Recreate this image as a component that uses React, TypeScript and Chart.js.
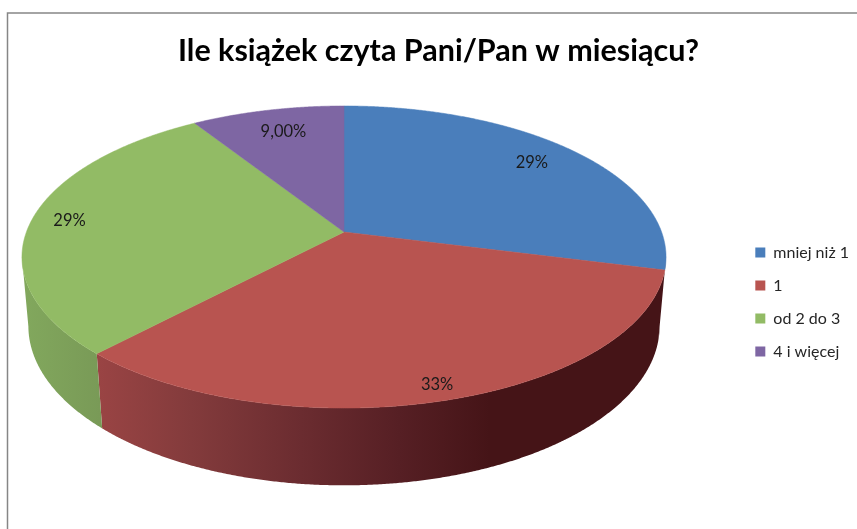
import React, { useEffect, useRef } from "react";
import { Chart, registerables } from "chart.js";

Chart.register(...registerables);

const categories = ["mniej niż 1", "1", "od 2 do 3", "4 i więcej"];
const shares = [29, 33, 29, 9];
const sliceLabels = ["29%", "33%", "29%", "9,00%"];
const sliceColors = ["#4a7ebb", "#b85450", "#92bb65", "#7e66a3"];
const chartTitle = "Ile książek czyta Pani/Pan w miesiącu?";

// Perspective camera for the tilted disc
const CX = 344, CY = 232, A = 317.6, B = 146.9, K = 0.1656;
const M = 0.0198, C = 69.5;
const FOLD_R = Math.asin(K), FOLD_L = Math.PI - Math.asin(K);
const LABEL_RADIUS = [0.81, 0.9, 0.88, 0.81];
const LABEL_SHIFT = [[0, -2], [0, 5], [0, 1], [3, 1]];
const FONT = "Lato, Carlito, sans-serif";

function project(theta: number, r: number, h: number) {
  const u = r * Math.cos(theta), v = r * Math.sin(theta);
  const w = 1 - K * v + M * h;
  return { x: CX + (A * u) / w, y: CY + (B * v + C * h) / w };
}

function arcPoints(s: number, e: number, h: number) {
  const n = Math.max(2, Math.ceil((e - s) / 0.005));
  const pts = [];
  for (let i = 0; i <= n; i++) pts.push(project(s + ((e - s) * i) / n, 1, h));
  return pts;
}

function wallFill(ctx: CanvasRenderingContext2D, i: number) {
  if (i === 1) {
    const g = ctx.createLinearGradient(97, 0, 490, 0);
    g.addColorStop(0, "#9a4444");
    g.addColorStop(0.24, "#833b3c");
    g.addColorStop(0.52, "#6b2c30");
    g.addColorStop(0.77, "#561f24");
    g.addColorStop(1, "#451417");
    return g;
  }
  if (i === 2) {
    const g = ctx.createLinearGradient(22, 0, 100, 0);
    g.addColorStop(0, "#82a85d");
    g.addColorStop(1, "#799a57");
    return g;
  }
  return "#451417";
}

const piePlugin = {
  id: "perspectivePie",
  beforeDraw(chart: any) {
    const { ctx, width, height } = chart;
    ctx.save();
    ctx.fillStyle = "#ffffff";
    ctx.fillRect(0, 0, width, height);
    ctx.strokeStyle = "#868686";
    ctx.lineWidth = 1.5;
    ctx.beginPath();
    ctx.moveTo(7.5, height + 2);
    ctx.lineTo(7.5, 13);
    ctx.lineTo(width + 2, 13);
    ctx.stroke();
    ctx.restore();
  },
  beforeDatasetDraw(chart: any) {
    const { ctx } = chart;
    const arcs = chart.getDatasetMeta(0).data;
    ctx.save();
    // side walls: only the near part of the rim, between the silhouette folds
    arcs.forEach((el: any, i: number) => {
      const s = Math.max(el.startAngle, FOLD_R);
      const e = Math.min(el.endAngle, FOLD_L);
      if (e <= s) return;
      const top = arcPoints(s, e, 0);
      const bottom = arcPoints(s, e, 1).reverse();
      ctx.beginPath();
      top.concat(bottom).forEach((p, k) => (k ? ctx.lineTo(p.x, p.y) : ctx.moveTo(p.x, p.y)));
      ctx.closePath();
      ctx.fillStyle = wallFill(ctx, i);
      ctx.fill();
    });
    // top face
    arcs.forEach((el: any, i: number) => {
      const pts = arcPoints(el.startAngle, el.endAngle, 0);
      ctx.beginPath();
      ctx.moveTo(CX, CY);
      pts.forEach((p) => ctx.lineTo(p.x, p.y));
      ctx.closePath();
      ctx.fillStyle = sliceColors[i];
      ctx.strokeStyle = sliceColors[i];
      ctx.lineWidth = 0.5;
      ctx.fill();
      ctx.stroke();
    });
    // value labels
    ctx.font = `16.5px ${FONT}`;
    ctx.fillStyle = "#1a1a1a";
    ctx.textAlign = "center";
    ctx.textBaseline = "middle";
    arcs.forEach((el: any, i: number) => {
      const p = project((el.startAngle + el.endAngle) / 2, LABEL_RADIUS[i], 0);
      ctx.fillText(sliceLabels[i], p.x + LABEL_SHIFT[i][0], p.y + LABEL_SHIFT[i][1]);
    });
    ctx.restore();
    return false;
  },
};

export default function App() {
  const ref = useRef<HTMLCanvasElement>(null);
  useEffect(() => {
    document.body.style.margin = "0";
    const chart = new Chart(ref.current!, {
      type: "pie",
      data: {
        labels: categories,
        datasets: [{ data: shares, backgroundColor: sliceColors, borderWidth: 0 }],
      },
      options: {
        responsive: false,
        animation: false,
        layout: { padding: { top: 33, right: -2, bottom: -42, left: 18 } },
        plugins: {
          tooltip: { enabled: false },
          title: {
            display: true,
            text: chartTitle,
            color: "#000000",
            font: { family: FONT, size: 30.5, weight: "bold" },
            padding: { top: 0, bottom: 10 },
          },
          legend: {
            position: "right",
            labels: {
              boxWidth: 10,
              boxHeight: 10,
              padding: 17,
              color: "#262626",
              font: { family: FONT, size: 16 },
            },
          },
        },
      },
      plugins: [piePlugin],
    } as any);
    return () => chart.destroy();
  }, []);
  return (
    <canvas
      ref={ref}
      width={857}
      height={529}
      style={{ display: "block", width: 857, height: 529 }}
    />
  );
}
